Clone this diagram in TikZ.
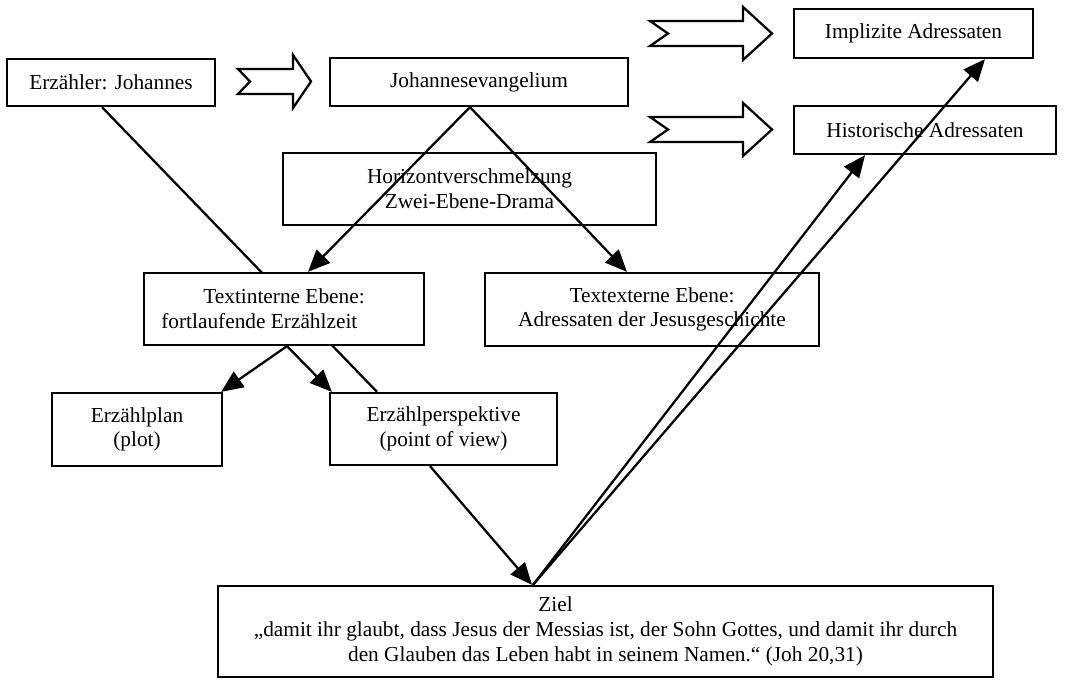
\documentclass[tikz,border=0pt]{standalone}
\usepackage{fontspec}
\setmainfont{Liberation Serif}
\usetikzlibrary{arrows.meta,calc,backgrounds}
\begin{document}
\begin{tikzpicture}[x=0.75pt,y=-0.75pt,
  box/.style={draw,line width=1.7pt,fill=white,inner sep=0pt,align=center,
    font=\fontsize{16}{18.5}\selectfont},
  conn/.style={line width=1.7pt},
  arr/.style={conn,-{Triangle[length=16.5pt,width=14pt]}},
  hollow/.style={draw,line width=1.7pt,fill=white,line join=miter}]
\useasboundingbox (0,0) rectangle (1068,680);
% boxes
\node[box,minimum width=156pt,minimum height=35.25pt] (erz) at (111,82.5) {Erzähler: Johannes};
\node[box,minimum width=223.5pt,minimum height=36pt] (joh) at (479,82) {Johannesevangelium};
\node[box,minimum width=179.25pt,minimum height=36.75pt] (impl) at (913.5,33.5) {Implizite Adressaten};
\node[box,minimum width=196.5pt,minimum height=36pt] (hist) at (925,130) {Historische Adressaten};
\node[box,minimum width=279.75pt,minimum height=54pt] (hor) at (469.5,189) {Horizontverschmelzung\\Zwei-Ebene-Drama};
\node[box,minimum width=210pt,minimum height=54pt] (tin) at (284,309) {Textinterne Ebene:\\fortlaufende Erzählzeit\hspace*{37pt}};
\node[box,minimum width=250.5pt,minimum height=54.75pt] (tex) at (652,309.5) {Textexterne Ebene:\\Adressaten der Jesusgeschichte};
\node[box,minimum width=127.5pt,minimum height=54.75pt] (plan) at (137,429.5) {Erzählplan\\(plot)};
\node[box,minimum width=170.25pt,minimum height=54pt] (persp) at (443.5,429) {Erzählperspektive\\(point of view)};
\node[box,minimum width=581.25pt,minimum height=68.25pt] (ziel) at (605.5,631.5) {Ziel\hspace*{75pt}\\„damit ihr glaubt, dass Jesus der Messias ist, der Sohn Gottes, und damit ihr durch\\den Glauben das Leben habt in seinem Namen.“ (Joh 20,31)};
% hollow arrows
\draw[hollow] (238,69) -- (293,69) -- (293,55) -- (311,81.5) -- (293,108) -- (293,94) -- (238,94) -- (250,81.5) -- cycle;
\draw[hollow] (650,21) -- (743,21) -- (743,7) -- (772,33.5) -- (743,60) -- (743,46) -- (650,46) -- (668,33.5) -- cycle;
\draw[hollow] (650,117) -- (743,117) -- (743,103) -- (772,129.5) -- (743,156) -- (743,142) -- (650,142) -- (668,129.5) -- cycle;
% connectors
\begin{scope}[on background layer]
\draw[conn] ($(erz.south)+(-9,0)$) -- ($(persp.north)+(-66.5,0)$);
\end{scope}
\draw[arr] ($(joh.south)+(-9,0)$) -- ($(tin.north)+(24,0)$);
\draw[arr] ($(joh.south)+(-9,0)$) -- ($(tex.north)+(-25,0)$);
\draw[arr] ($(tin.south)+(3,0)$) -- ($(plan.north east)+(-2,0)$);
\draw[arr] ($(tin.south)+(3,0)$) -- ($(persp.north west)+(3,0)$);
\draw[arr] ($(persp.south)+(-13.5,0)$) -- ($(ziel.north)+(-73.5,0)$);
\draw[arr] ($(ziel.north)+(-72.5,0)$) -- ($(hist.south)+(-60,0)$);
\draw[arr] ($(ziel.north)+(-72.5,0)$) -- ($(impl.south)+(71.5,0)$);
\end{tikzpicture}
\end{document}
